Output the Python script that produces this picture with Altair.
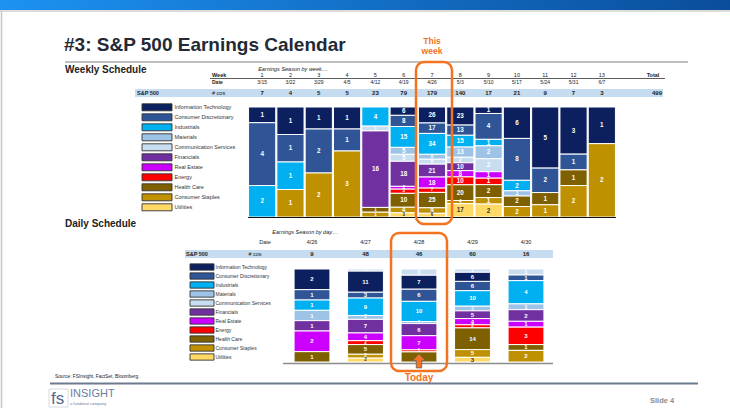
import altair as alt
import pandas as pd

FONT = "Liberation Sans"
ORANGE = "#f47321"

sectors = ["Information Technology", "Consumer Discretionary", "Industrials", "Materials",
           "Communication Services", "Financials", "Real Estate", "Energy", "Health Care",
           "Consumer Staples", "Utilities"]
sector_colors = ["#0c1f5e", "#2f5597", "#00b0f0", "#9dc3e6", "#c9ddf1", "#7030a0",
                 "#cc00ff", "#ff0000", "#7f6000", "#bf9000", "#ffd966"]

weeks = [str(i) for i in range(1, 14)]
week_dates = ["3/15", "3/22", "3/29", "4/5", "4/12", "4/19", "4/26", "5/3", "5/10",
              "5/17", "5/24", "5/31", "6/7"]
week_totals = [7, 4, 5, 5, 23, 79, 179, 140, 17, 21, 9, 7, 3]

weekly_it = [1, 1, 1, 1, 0, 6, 26, 23, 1, 6, 5, 3, 1]
weekly_cd = [4, 1, 2, 1, 0, 8, 17, 13, 4, 8, 2, 1, 0]
weekly_ind = [2, 1, 0, 0, 4, 15, 34, 15, 1, 2, 0, 0, 0]
weekly_mat = [0, 0, 0, 0, 0, 5, 8, 13, 2, 1, 0, 0, 0]
weekly_comm = [0, 0, 0, 0, 1, 5, 8, 7, 2, 0, 0, 0, 0]
weekly_fin = [0, 0, 0, 0, 16, 18, 21, 10, 0, 0, 0, 0, 0]
weekly_re = [0, 0, 0, 0, 0, 2, 18, 8, 1, 0, 0, 0, 0]
weekly_energy = [0, 0, 0, 0, 0, 3, 7, 10, 1, 0, 0, 0, 0]
weekly_hc = [0, 0, 0, 0, 1, 10, 25, 20, 2, 2, 1, 1, 0]
weekly_staples = [0, 1, 2, 3, 1, 4, 9, 4, 1, 2, 1, 2, 2]
weekly_util = [0, 0, 0, 0, 0, 3, 6, 17, 2, 0, 0, 0, 0]

days = ["4/26", "4/27", "4/28", "4/29", "4/30"]
day_totals = [9, 48, 46, 60, 16]

daily_it = [2, 11, 7, 6, 0]
daily_cd = [1, 3, 6, 6, 1]
daily_ind = [1, 9, 10, 10, 4]
daily_mat = [1, 2, 1, 3, 1]
daily_comm = [0, 1, 3, 2, 1]
daily_fin = [1, 7, 6, 5, 2]
daily_re = [2, 4, 7, 4, 1]
daily_energy = [0, 2, 1, 2, 3]
daily_hc = [1, 5, 5, 14, 1]
daily_staples = [0, 2, 0, 5, 2]
daily_util = [0, 2, 0, 3, 0]

weekly_series = [weekly_it, weekly_cd, weekly_ind, weekly_mat, weekly_comm, weekly_fin,
                 weekly_re, weekly_energy, weekly_hc, weekly_staples, weekly_util]
daily_series = [daily_it, daily_cd, daily_ind, daily_mat, daily_comm, daily_fin,
                daily_re, daily_energy, daily_hc, daily_staples, daily_util]
# stacking order (bottom = 0)
weekly_rank = [10, 9, 8, 7, 6, 5, 4, 3, 2, 1, 0]
daily_rank = [9, 8, 7, 6, 10, 5, 4, 3, 2, 1, 0]

wrows = []
for s, vals, r in zip(sectors, weekly_series, weekly_rank):
    for w, v in zip(weeks, vals):
        if v > 0:
            wrows.append({"week": w, "sector": s, "n": v, "ord": r})
wdf = pd.DataFrame(wrows)

drows = []
for s, vals, r in zip(sectors, daily_series, daily_rank):
    for d, v in zip(days, vals):
        if v > 0:
            drows.append({"day": d, "sector": s, "n": v, "ord": r})
ddf = pd.DataFrame(drows)

color_enc = alt.Color("sector:N", scale=alt.Scale(domain=sectors, range=sector_colors), legend=None)
label_color = alt.condition("datum.sector == 'Utilities'", alt.value("#333333"), alt.value("white"))
label_size = alt.condition("datum.y1 - datum.y0 < 0.045", alt.value(4.5), alt.value(6.3))

# ---------- weekly ----------
wx = alt.X("week:N", scale=alt.Scale(domain=weeks, range=[248, 616], paddingInner=0.04, paddingOuter=0.02), axis=None)
wyscale = alt.Scale(domain=[0, 1], range=[217, 107])
wbase = alt.Chart(wdf).transform_stack(
    stack="n", groupby=["week"], as_=["y0", "y1"], offset="normalize",
    sort=[alt.SortField("ord", order="ascending")]
).transform_calculate(ym="(datum.y0 + datum.y1) / 2")
wbars = wbase.mark_bar(stroke="white", strokeWidth=1).encode(
    x=wx, y=alt.Y("y0:Q", scale=wyscale, axis=None), y2="y1:Q", color=color_enc)
wlabels = wbase.mark_text(font=FONT, fontWeight="bold").encode(
    x=wx, y=alt.Y("ym:Q", scale=wyscale, axis=None), text="n:Q", color=label_color, size=label_size)

whdr = alt.Chart(pd.DataFrame({"week": weeks, "date": week_dates, "total": week_totals}))
wnum = whdr.mark_text(font=FONT, fontSize=5.5, color="#222").encode(x=wx, y=alt.value(75), text="week:N")
wdate = whdr.mark_text(font=FONT, fontSize=5, color="#222").encode(x=wx, y=alt.value(81.5), text="date:N")
wtot = whdr.mark_text(font=FONT, fontSize=6, fontWeight="bold", color="#222").encode(x=wx, y=alt.value(93), text="total:Q")

# ---------- daily ----------
dx = alt.X("day:N", scale=alt.Scale(domain=days, range=[285.25, 552.75], paddingInner=0.33, paddingOuter=0.165), axis=None)
dyscale = alt.Scale(domain=[0, 1], range=[362, 269])
dbase = alt.Chart(ddf).transform_stack(
    stack="n", groupby=["day"], as_=["y0", "y1"], offset="normalize",
    sort=[alt.SortField("ord", order="ascending")]
).transform_calculate(ym="(datum.y0 + datum.y1) / 2")
dbars = dbase.mark_bar(stroke="white", strokeWidth=1).encode(
    x=dx, y=alt.Y("y0:Q", scale=dyscale, axis=None), y2="y1:Q", color=color_enc)
dlabels = dbase.mark_text(font=FONT, fontWeight="bold").encode(
    x=dx, y=alt.Y("ym:Q", scale=dyscale, axis=None), text="n:Q", color=label_color,
    size=alt.condition("datum.y1 - datum.y0 < 0.05", alt.value(4.5), alt.value(6)))

dhdr = alt.Chart(pd.DataFrame({"day": days, "total": day_totals}))
ddate = dhdr.mark_text(font=FONT, fontSize=5.5, color="#222").encode(x=dx, y=alt.value(242), text="day:N")
dtot = dhdr.mark_text(font=FONT, fontSize=6, fontWeight="bold", color="#222").encode(x=dx, y=alt.value(254), text="total:Q")

# ---------- legends ----------
ldf = alt.Chart(pd.DataFrame({"sector": sectors}))
wly = alt.Y("sector:N", scale=alt.Scale(domain=sectors, range=[102.3, 212.3], paddingInner=0.3, paddingOuter=0.15), axis=None)
wleg_r = ldf.mark_rect(stroke="#333", strokeWidth=0.9).encode(x=alt.value(142), x2=alt.value(172), y=wly, color=color_enc)
wleg_t = ldf.mark_text(font=FONT, fontSize=5.5, align="left", color="#333").encode(x=alt.value(174.5), y=wly, text="sector:N")
dly = alt.Y("sector:N", scale=alt.Scale(domain=sectors, range=[262.5, 361.5], paddingInner=0.3, paddingOuter=0.15), axis=None)
dleg_r = ldf.mark_rect(stroke="#333", strokeWidth=0.9).encode(x=alt.value(190), x2=alt.value(214), y=dly, color=color_enc)
dleg_t = ldf.mark_text(font=FONT, fontSize=5, align="left", color="#333").encode(x=alt.value(215.5), y=dly, text="sector:N")

# ---------- helpers for slide decoration ----------
one = pd.DataFrame({"a": [0]})


def txt(s, x, y, size=6, weight="normal", color="#222", align="left", italic=False):
    return alt.Chart(pd.DataFrame({"t": [s]})).mark_text(
        font=FONT, fontSize=size, fontWeight=weight, color=color, align=align,
        baseline="middle", fontStyle="italic" if italic else "normal"
    ).encode(x=alt.value(x), y=alt.value(y), text="t:N")


def hline(x1, x2, y, color="#333", width=1.0):
    return alt.Chart(one).mark_rule(color=color, strokeWidth=width).encode(
        x=alt.value(x1), x2=alt.value(x2), y=alt.value(y))


def box(x1, x2, y1, y2, color):
    return alt.Chart(one).mark_rect(color=color).encode(
        x=alt.value(x1), x2=alt.value(x2), y=alt.value(y1), y2=alt.value(y2))


def frame(x1, x2, y1, y2, color=ORANGE, width=2.5, radius=8):
    return alt.Chart(one).mark_rect(filled=False, stroke=color, strokeWidth=width, cornerRadius=radius).encode(
        x=alt.value(x1), x2=alt.value(x2), y=alt.value(y1), y2=alt.value(y2))


header_bar = alt.Chart(one).mark_rect(
    color=alt.Gradient(gradient="linear",
                       stops=[alt.GradientStop(color="#1c92f2", offset=0),
                              alt.GradientStop(color="#0a4d9b", offset=1)],
                       x1=0, x2=1, y1=0, y2=0)
).encode(x=alt.value(0), x2=alt.value(730), y=alt.value(0), y2=alt.value(10))

arrow = alt.Chart(one).mark_point(
    shape="M0,-1L0.95,-0.05L0.4,-0.05L0.4,1L-0.4,1L-0.4,-0.05L-0.95,-0.05Z",
    filled=True, fill=ORANGE, stroke="#666", strokeWidth=0.8, size=190, opacity=1
).encode(x=alt.value(419), y=alt.value(361))

layers = [
    header_bar,
    hline(0, 730, 11, "#d0d0d0", 1.5),
    alt.Chart(one).mark_rule(color="#c8c8c8", strokeWidth=1.5).encode(
        x=alt.value(1.5), y=alt.value(11), y2=alt.value(408)),
    txt("#3: S&P 500 Earnings Calendar", 64, 45, 19, "bold", "#232a35"),
    txt("This", 432, 41, 8.5, "bold", ORANGE, "center"),
    txt("week", 432, 51, 8.5, "bold", ORANGE, "center"),
    hline(65, 688, 62, "#7f7f7f", 1),
    txt("Weekly Schedule", 65, 70, 10, "bold", "#222"),
    txt("Earnings Season by week....", 293, 68.5, 5.5, "normal", "#222", "center", True),
    box(135, 663, 89, 97, "#c5dcf1"),
    hline(210, 665, 78.5, "#333", 0.8),
    txt("Week", 212, 75, 5.5, "bold", "#222"),
    txt("Date", 212, 81.5, 5, "bold", "#222"),
    txt("Total", 653, 75, 5.5, "bold", "#222", "center"),
    txt("S&P 500", 137, 93, 5.5, "bold", "#222"),
    txt("# cos", 212, 93, 5.5, "normal", "#222"),
    txt("499", 657, 93, 6, "bold", "#222", "center"),
    wnum, wdate, wtot,
    wleg_r, wleg_t,
    wbars, wlabels,
    hline(248, 616, 217.5, "#111", 1),
    frame(416, 452, 62, 224),
    txt("Daily Schedule", 65, 224, 10, "bold", "#222"),
    txt("Earnings Season by day....", 305, 232, 5.5, "normal", "#222", "center", True),
    box(185, 553, 250, 258, "#c5dcf1"),
    txt("Date", 265, 242, 5.5, "normal", "#222", "center"),
    txt("S&P 500", 186, 254, 5.5, "bold", "#222"),
    txt("# cos", 255, 254, 5.5, "normal", "#222", "center"),
    ddate, dtot,
    dleg_r, dleg_t,
    dbars, dlabels,
    hline(283, 553, 363.5, "#8c8c8c", 1.5),
    frame(391, 447, 233, 371),
    arrow,
    txt("Today", 419, 378, 10, "bold", ORANGE, "center"),
    txt("Source: FSInsight, FactSet, Bloomberg.", 55, 377, 4.8, "normal", "#222"),
    hline(50, 698, 383.5, "#6d7b8f", 2),
    frame(49, 68, 389, 407, "#c9cfdb", 0.8, 0),
    txt("fs", 51, 398.5, 17, "normal", "#55688f"),
    txt("INSIGHT", 70, 394, 11, "normal", "#6b7c9e"),
    txt("a fundstrat company", 70, 403.5, 4, "normal", "#6b7c9e"),
    txt("Slide  4", 650, 401, 7.5, "bold", "#8a8a8a"),
]

chart = alt.layer(*layers).resolve_scale(
    x="independent", y="independent"
).properties(
    width=730, height=408, padding=0, autosize="none", background="white"
).configure_view(stroke=None)

chart.save("out.html", embed_options={"renderer": "svg", "actions": False})
